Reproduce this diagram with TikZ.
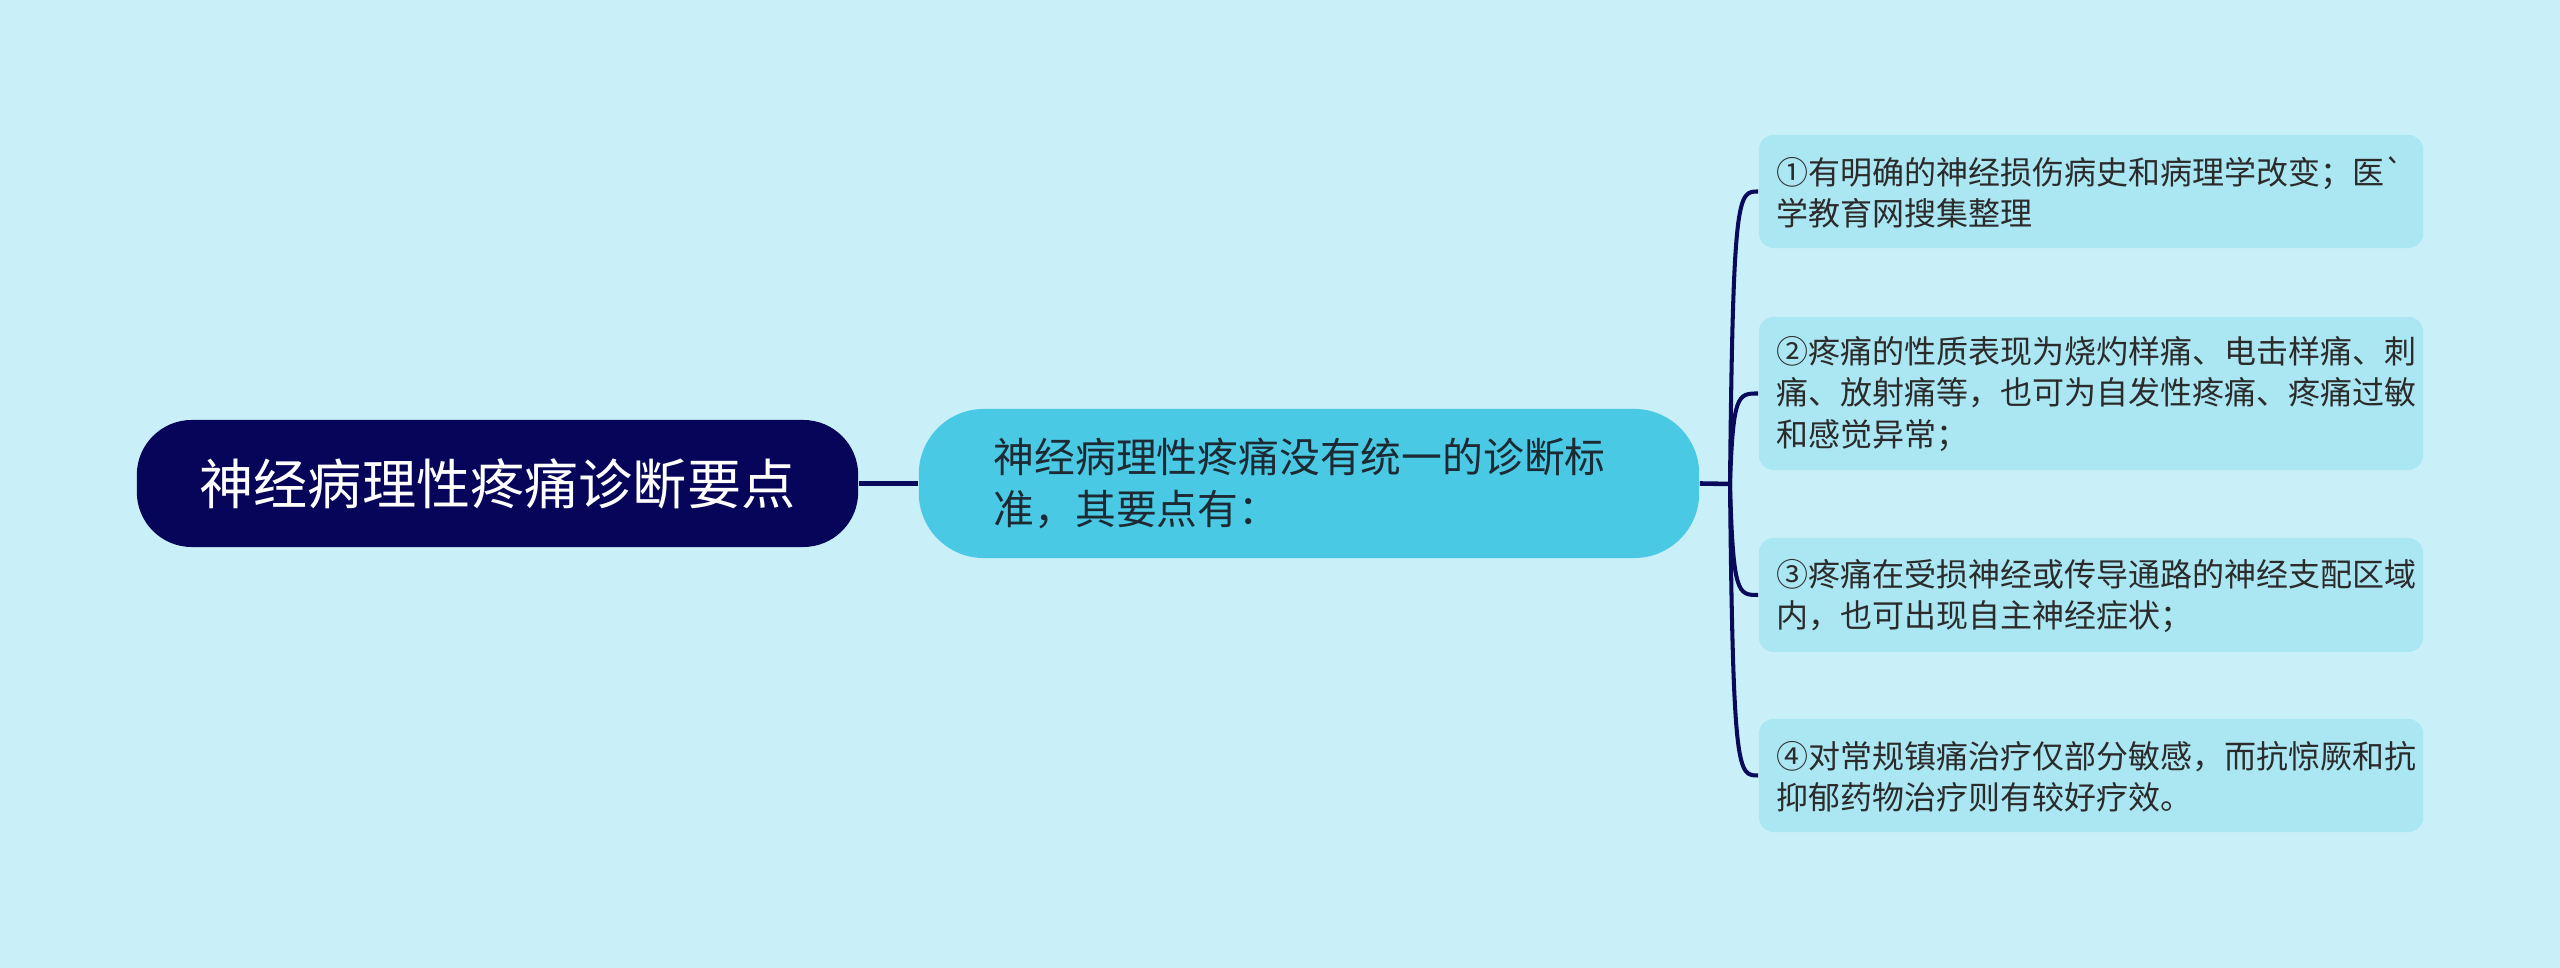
\documentclass[tikz,border=0pt]{standalone}
\usepackage{fontspec}
\setmainfont{Noto Sans CJK SC}[Ligatures=TeXOff]
\definecolor{bg}{HTML}{C9F0F8}
\definecolor{rootc}{HTML}{06055A}
\definecolor{midc}{HTML}{49C9E4}
\definecolor{childc}{HTML}{ABE6F3}
\definecolor{linec}{HTML}{0A0A5C}
\definecolor{midtext}{HTML}{1E2A33}
\definecolor{childtext}{HTML}{2B2B2B}
\begin{document}
\begin{tikzpicture}[x=0.01cm,y=-0.01cm,
  rootbox/.style={fill=rootc, rounded corners=0.55cm, inner sep=0pt, minimum width=7.21cm, minimum height=1.27cm},
  midbox/.style={fill=midc, rounded corners=0.65cm, inner sep=0pt, minimum width=7.80cm, minimum height=1.49cm},
  childbox/.style={fill=childc, rounded corners=0.15cm, inner sep=0pt, minimum width=6.64cm},
  roottext/.style={text=white, inner sep=0pt, font=\fontsize{15.4pt}{18pt}\selectfont},
  midtxt/.style={text=midtext, inner sep=0pt, align=left, anchor=west, font=\fontsize{11.6pt}{14.8pt}\selectfont},
  childtxt/.style={text=childtext, inner sep=0pt, align=left, anchor=west, font=\fontsize{9.1pt}{11.7pt}\selectfont},
  conn/.style={draw=linec, line width=1.4pt},
  branch/.style={draw=linec, line width=1.15pt}
]
\fill[bg] (0,0) rectangle (2560,968);
\useasboundingbox (0,0) rectangle (2560,968);

\node[rootbox] (root) at (497.5,483.5) {};
\node[roottext] (roott) at (root.center) {神经病理性疼痛诊断要点};

\node[midbox] (mid) at (1309,483.5) {};
\node[midtxt] (midt) at (993,483.5) {神经病理性疼痛没有统一的诊断标\\准，其要点有：};

\node[childbox, minimum height=1.13cm] (c1) at (2091,191.5) {};
\node[childbox, minimum height=1.53cm] (c2) at (2091,393.5) {};
\node[childbox, minimum height=1.14cm] (c3) at (2091,595) {};
\node[childbox, minimum height=1.13cm] (c4) at (2091,775.5) {};

\node[childtxt] (t1) at (1776,192) {①有明确的神经损伤病史和病理学改变；医`\\学教育网搜集整理};
\node[childtxt] (t2) at (1776,394) {②疼痛的性质表现为烧灼样痛、电击样痛、刺\\痛、放射痛等，也可为自发性疼痛、疼痛过敏\\和感觉异常；};
\node[childtxt] (t3) at (1776,596) {③疼痛在受损神经或传导通路的神经支配区域\\内，也可出现自主神经症状；};
\node[childtxt] (t4) at (1776,777) {④对常规镇痛治疗仅部分敏感，而抗惊厥和抗\\抑郁药物治疗则有较好疗效。};

\coordinate (j) at (1730,484);
\draw[conn] (root.east) -- (mid.west);
\draw[branch, line width=1.3pt] (mid.east) -- (j);
\draw[branch] (j) .. controls (1733,191.5) and (1738,191.5) .. (c1.west);
\draw[branch] (j) .. controls (1733,393.5) and (1738,393.5) .. (c2.west);
\draw[branch] (j) .. controls (1733,595) and (1738,595) .. (c3.west);
\draw[branch] (j) .. controls (1733,775.5) and (1738,775.5) .. (c4.west);
\end{tikzpicture}
\end{document}
